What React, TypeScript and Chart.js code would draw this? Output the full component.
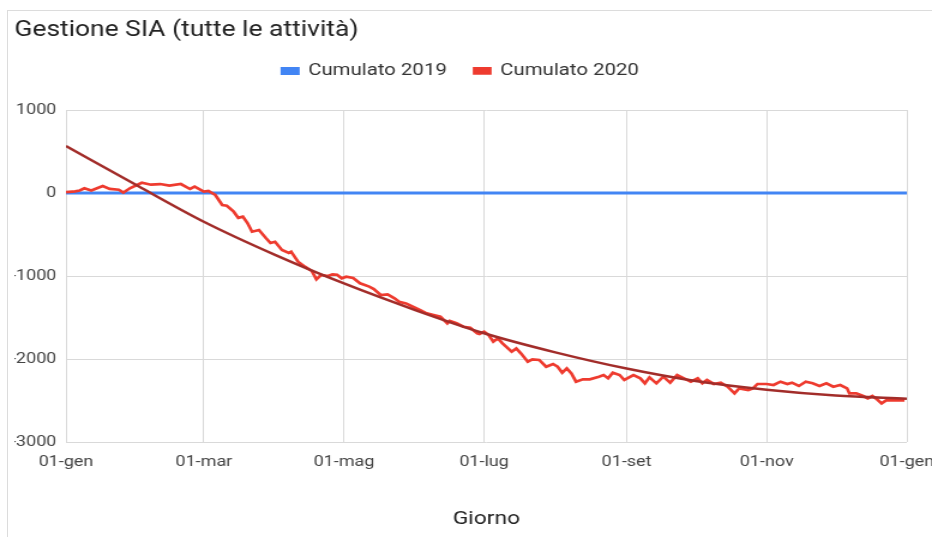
import React, { useEffect, useRef } from "react";
import { Chart, registerables } from "chart.js";

Chart.register(...registerables);

// ---- data ----
const tickDays = [0, 60, 121, 182, 244, 305, 366];
const tickLabels = ["01-gen", "01-mar", "01-mag", "01-lug", "01-set", "01-nov", "01-gen"];
const yTicks = [-3000, -2000, -1000, 0, 1000];

const days2019 = [0, 366];
const cum2019 = [0, 0];

const days2020 = [
  0, 4, 6, 8, 11, 16, 19, 23, 25, 28,
  33, 37, 41, 45, 50, 54, 56, 60, 62, 65,
  68, 70, 73, 75, 77, 79, 81, 84, 87, 89,
  91, 94, 97, 98, 101, 104, 107, 109, 111, 114,
  116, 118, 120, 122, 125, 128, 132, 134, 137, 140,
  143, 145, 148, 151, 154, 157, 160, 163, 166, 167,
  170, 173, 176, 179, 180, 182, 184, 186, 188, 190,
  194, 196, 198, 201, 203, 206, 209, 212, 214, 216,
  218, 220, 222, 225, 228, 232, 234, 236, 238, 241,
  243, 247, 250, 252, 254, 257, 260, 263, 266, 269,
  272, 275, 277, 279, 282, 285, 288, 291, 293, 297,
  299, 301, 305, 308, 311, 314, 316, 319, 322, 325,
  328, 331, 334, 337, 340, 341, 344, 347, 349, 351,
  353, 355, 357, 362, 365,
];
const cum2020 = [
  10, 20, 30, 57, 30, 84, 50, 40, 5, 60,
  124, 100, 108, 90, 108, 48, 76, 16, 24, -24,
  -145, -153, -225, -300, -285, -362, -466, -446, -542, -602,
  -587, -687, -723, -707, -828, -888, -940, -1040, -988, -1000,
  -980, -985, -1028, -1008, -1024, -1088, -1128, -1157, -1229, -1221,
  -1269, -1310, -1330, -1370, -1410, -1450, -1470, -1490, -1570, -1542,
  -1570, -1611, -1623, -1691, -1700, -1671, -1711, -1792, -1751, -1811,
  -1912, -1872, -1932, -2033, -2004, -2012, -2093, -2060, -2093, -2165,
  -2113, -2173, -2273, -2245, -2245, -2213, -2193, -2233, -2165, -2193,
  -2253, -2193, -2233, -2293, -2221, -2293, -2213, -2285, -2193, -2233,
  -2273, -2233, -2293, -2253, -2301, -2285, -2334, -2414, -2354, -2374,
  -2354, -2301, -2301, -2313, -2273, -2301, -2285, -2325, -2273, -2293,
  -2325, -2293, -2334, -2313, -2354, -2414, -2414, -2446, -2474, -2446,
  -2486, -2534, -2498, -2498, -2498,
];

const trendDays = [0, 31, 60, 91, 121, 152, 182, 213, 244, 274, 305, 335, 366];
const trendValues = [566, 90, -346, -745, -1090, -1410, -1690, -1920, -2115, -2265, -2370, -2440, -2478];

// ---- layout constants ----
const W = 932;
const H = 537;
const STRETCH = 1.2;
const IW = Math.round(W / STRETCH);

const zip = (xs: number[], ys: number[]) => xs.map((x, i) => ({ x, y: ys[i] }));

const legendHeightPlugin = {
  id: "legendHeight",
  beforeLayout(chart: any) {
    const lg = chart.legend;
    if (lg && !lg.__wrapped) {
      const orig = lg.fit;
      lg.fit = function () {
        orig.call(this);
        this.height = 70.6;
      };
      lg.__wrapped = true;
    }
  },
};

export default function App() {
  const ref = useRef<HTMLCanvasElement | null>(null);

  useEffect(() => {
    if (!ref.current) return;
    const font = "Roboto";
    const chart = new Chart(ref.current, {
      type: "line",
      data: {
        datasets: [
          {
            label: "Cumulato 2019",
            data: zip(days2019, cum2019),
            borderColor: "#4285f4",
            backgroundColor: "#4285f4",
            borderWidth: 3,
            pointRadius: 0,
            order: 3,
          },
          {
            label: "Cumulato 2020",
            data: zip(days2020, cum2020),
            borderColor: "#ee3b2f",
            backgroundColor: "#ee3b2f",
            borderWidth: 2.7,
            pointRadius: 0,
            order: 2,
          },
          {
            label: "Tendenza",
            data: zip(trendDays, trendValues),
            borderColor: "#a22d2a",
            backgroundColor: "#a22d2a",
            borderWidth: 2.5,
            pointRadius: 0,
            cubicInterpolationMode: "monotone",
            order: 1,
          },
        ],
      },
      options: {
        responsive: false,
        animation: false,
        devicePixelRatio: 1,
        layout: { padding: { left: 12, right: 21, top: 0, bottom: 0 } },
        plugins: {
          title: {
            display: true,
            text: "Gestione SIA (tutte le attività)",
            align: "start",
            color: "#222",
            font: { family: font, size: 22, weight: "normal" },
            padding: { top: 17, bottom: -4 },
          },
          legend: {
            labels: {
              filter: (item: any) => item.datasetIndex < 2,
              sort: (a: any, b: any) => a.datasetIndex - b.datasetIndex,
              boxWidth: 13,
              boxHeight: 5,
              padding: 23,
              color: "#333",
              font: { family: font, size: 17 },
            },
          },
          tooltip: { enabled: false },
        },
        scales: {
          x: {
            type: "linear",
            min: 0,
            max: 366,
            afterBuildTicks: (s: any) => {
              s.ticks = tickDays.map((v) => ({ value: v }));
            },
            ticks: {
              callback: (_v: any, i: number) => tickLabels[i],
              color: "#444",
              font: { family: font, size: 15 },
              padding: 11,
              maxRotation: 0,
              autoSkip: false,
            },
            grid: { color: "#d9d9d9", drawTicks: false },
            border: { display: false },
            title: {
              display: true,
              text: "Giorno",
              color: "#222",
              font: { family: font, size: 19 },
              padding: { top: 0, bottom: 6 },
            },
            afterFit: (s: any) => {
              s.height = 95;
              s.paddingLeft = 0;
              s.paddingRight = 0;
            },
          },
          y: {
            min: -3000,
            max: 1000,
            afterBuildTicks: (s: any) => {
              s.ticks = yTicks.map((v) => ({ value: v }));
            },
            ticks: {
              callback: (v: any) => String(v),
              color: "#444",
              font: { family: font, size: 15 },
              padding: 8,
            },
            grid: { color: "#d9d9d9", drawTicks: false },
            border: { display: false },
            afterFit: (s: any) => {
              s.width = 43;
              s.paddingTop = 0;
              s.paddingBottom = 0;
            },
          },
        },
      },
      plugins: [legendHeightPlugin],
    } as any);
    return () => chart.destroy();
  }, []);

  return (
    <div
      style={{
        position: "fixed",
        left: 0,
        top: 0,
        width: W,
        height: H,
        overflow: "hidden",
        background: "#fff",
      }}
    >
      <canvas
        ref={ref}
        width={IW}
        height={H}
        style={{ width: W + "px", height: H + "px", display: "block" }}
      />
      <div
        style={{
          position: "absolute",
          left: 7,
          top: 10,
          width: W,
          height: H,
          borderTop: "1px solid #dcdcdc",
          borderLeft: "1px solid #dcdcdc",
          pointerEvents: "none",
        }}
      />
    </div>
  );
}
